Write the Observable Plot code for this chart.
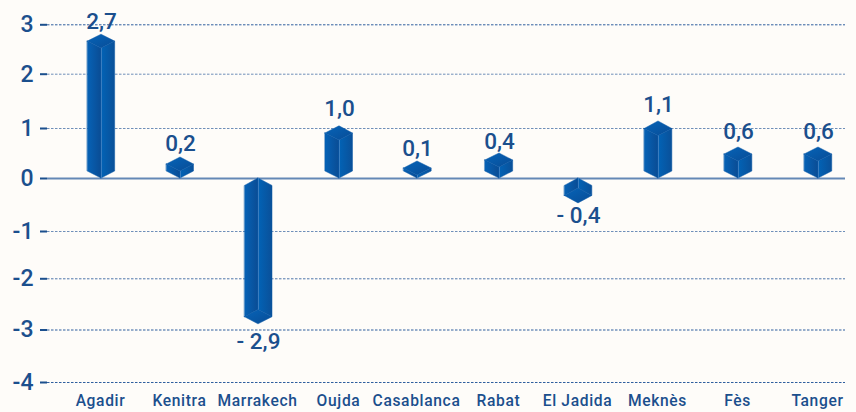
<!DOCTYPE html>
<html>
<head>
<meta charset="utf-8">
<style>
html,body{margin:0;padding:0;background:#fefcf9;}
svg{display:block;}
[aria-label="x-axis tick label"] text{letter-spacing:.65px;}
</style>
<script src="https://cdn.jsdelivr.net/npm/d3@7"></script>
<script src="https://cdn.jsdelivr.net/npm/@observablehq/plot@0.6"></script>
</head>
<body>
<script>
const cities = ["Agadir","Kenitra","Marrakech","Oujda","Casablanca","Rabat","El Jadida","Meknès","Fès","Tanger"];
const values = [2.7,0.2,-2.9,1.0,0.1,0.4,-0.4,1.1,0.6,0.6];
// extent of each drawn 3D prism (differs a little from the printed value)
const drawnTips = [2.80,0.42,-2.89,1.04,0.34,0.50,-0.47,1.13,0.62,0.62];
const labelAt = [3.07,0.70,-3.22,1.37,0.60,0.74,-0.70,1.44,0.94,0.94];
const yTicks = [-4,-3,-2,-1,0,1,2,3];
const yPixels = [382,329.5,278.3,231,178,128,73.7,24.3];
const xPixels = [101,180,258,339,417,499,578,658,738,818];
const gridColors = ["#2f5f9e","#2f5f9e","#4f77ab","#6f8fb9","#6f8fb9","#6f8fb9","#6f8fb9","#2f5f9e"];

const halfW = 0.173, depth = 0.14;
const ink = "#1b4f8d";
const idx = cities.map((_, i) => i);
const sign = i => Math.sign(values[i]);
const len = i => Math.abs(drawnTips[i]);

const leftFace = idx.flatMap(i => [
  {i, x:i-halfW, y1:sign(i)*depth, y2:sign(i)*(len(i)-depth)},
  {i, x:i, y1:0, y2:sign(i)*(len(i)-2*depth)}
]);
const rightFace = idx.flatMap(i => [
  {i, x:i, y1:0, y2:sign(i)*(len(i)-2*depth)},
  {i, x:i+halfW, y1:sign(i)*depth, y2:sign(i)*(len(i)-depth)}
]);
const cap = idx.flatMap(i => [
  {i, x:i-halfW, y1:sign(i)*(len(i)-depth), y2:sign(i)*(len(i)-depth)},
  {i, x:i, y1:sign(i)*(len(i)-2*depth), y2:sign(i)*len(i)},
  {i, x:i+halfW, y1:sign(i)*(len(i)-depth), y2:sign(i)*(len(i)-depth)}
]);
const edges = idx.map(i => ({x:i, y1:0, y2:sign(i)*(len(i)-2*depth)}));

const fmt = v => (v < 0 ? "- " : "") + Math.abs(v).toFixed(1).replace(".", ",");

const defs = () => d3.create("svg:defs").html(`
  <linearGradient id="gl" x1="0" x2="1" y1="0" y2="0"><stop offset="0" stop-color="#0662b6"/><stop offset="1" stop-color="#0a4c94"/></linearGradient>
  <linearGradient id="gr" x1="0" x2="1" y1="0" y2="0"><stop offset="0" stop-color="#0263b6"/><stop offset="1" stop-color="#0a5099"/></linearGradient>
  <linearGradient id="gc" x1="0" x2="1" y1="0" y2="1"><stop offset="0" stop-color="#0664b8"/><stop offset="1" stop-color="#084c96"/></linearGradient>
`).node();

const chart = Plot.plot({
  width: 856, height: 412,
  marginLeft: 47, marginRight: 11, marginTop: 24, marginBottom: 30,
  style: {background:"#fefcf9", fontFamily:"Roboto, sans-serif", overflow:"visible"},
  x: {type:"linear", domain:[-0.68, ...idx, 9.34], range:[47, ...xPixels, 845]},
  y: {type:"linear", domain:yTicks, range:yPixels},
  marks: [
    defs,
    Plot.ruleY(yTicks.filter(t => t !== 0), {stroke:(d) => gridColors[yTicks.indexOf(d)], strokeWidth:1, strokeDasharray:"2.5 1.5"}),
    Plot.ruleY([0], {stroke:"#6488b6", strokeWidth:2}),
    Plot.axisY({ticks:yTicks, tickFormat:d => String(d), tickSize:7, tickPadding:7, strokeWidth:2, stroke:ink, fill:ink, fontSize:23, fontWeight:500, label:null}),
    Plot.axisX({ticks:idx, tickFormat:i => cities[i], tickSize:0, tickPadding:12, dx:-1, fill:ink, fontSize:15.6, fontWeight:500, label:null}),
    Plot.areaY(leftFace, {x:"x", y1:"y1", y2:"y2", z:"i", fill:"url(#gl)", stroke:"#0a58a6", strokeWidth:0.5}),
    Plot.areaY(rightFace, {x:"x", y1:"y1", y2:"y2", z:"i", fill:"url(#gr)", stroke:"#0a58a6", strokeWidth:0.5}),
    Plot.areaY(cap, {x:"x", y1:"y1", y2:"y2", z:"i", fill:"url(#gc)", stroke:"#0a58a6", strokeWidth:0.5}),
    Plot.ruleX(edges, {x:"x", y1:"y1", y2:"y2", stroke:"#3f80c2", strokeWidth:0.9}),
    Plot.text(idx, {x:i => i, y:i => labelAt[i], text:i => fmt(values[i]), fill:ink, fontSize:22.5, fontWeight:500, textAnchor:"middle", lineAnchor:"middle"})
  ]
});
document.body.appendChild(chart);
</script>
</body>
</html>
